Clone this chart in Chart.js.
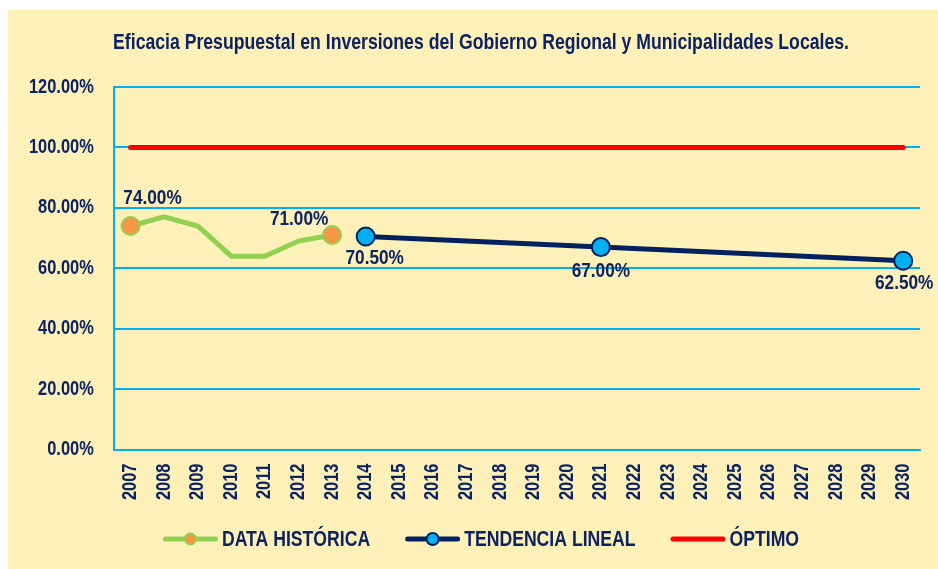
<!DOCTYPE html>
<html lang="es">
<head>
<meta charset="utf-8">
<title>Eficacia Presupuestal en Inversiones</title>
<script src="https://cdn.jsdelivr.net/npm/chart.js@4.4.1/dist/chart.umd.min.js"></script>
<style>
  html, body { margin: 0; padding: 0; background: #ffffff; }
  #panel {
    position: absolute; left: 8px; top: 10px;
    width: 930px; height: 559px;
    background: #FEF0B9;
    overflow: hidden;
  }
  #box { position: absolute; left: 0; top: 0; width: 946px; height: 559px; }
  #chart { display: block; }
</style>
</head>
<body>
<div id="panel"><div id="box"><canvas id="chart"></canvas></div></div>
<script>
// Years on the horizontal axis
const years = ['2007','2008','2009','2010','2011','2012','2013','2014','2015','2016','2017','2018',
               '2019','2020','2021','2022','2023','2024','2025','2026','2027','2028','2029','2030'];

// Historical budget efficacy (%)
const historico = [74, 77, 74, 64, 64, 69, 71, null, null, null, null, null,
                   null, null, null, null, null, null, null, null, null, null, null, null];

// Linear trend projection (%)
const tendencia = [null, null, null, null, null, null, null, 70.5, null, null, null, null,
                   null, null, 67, null, null, null, null, null, null, null, null, 62.5];

// Target level (%)
const optimo = [100, 100, 100, 100, 100, 100, 100, 100, 100, 100, 100, 100,
                100, 100, 100, 100, 100, 100, 100, 100, 100, 100, 100, 100];

const seriesNames = ['DATA HISTÓRICA', 'TENDENCIA LINEAL', 'ÓPTIMO'];
const yTicks = [0, 20, 40, 60, 80, 100, 120];
const chartTitle = 'Eficacia Presupuestal en Inversiones del Gobierno Regional y Municipalidades Locales.';

const NAVY = '#0C2363';
const GREEN = '#92D050';
const ORANGE = '#F79646';
const DARK = '#002060';
const CYAN = '#00B0F0';
const RED = '#FF0000';
const FONT = "'Liberation Sans', Arial, sans-serif";

// Condensed lettering: every string on the chart canvas is drawn
// horizontally compressed, and measured accordingly for layout.
const NARROW = 0.82;
const canvas = document.getElementById('chart');
const ctx2d = canvas.getContext('2d');
const baseFill = ctx2d.fillText;
const baseMeasure = ctx2d.measureText;
ctx2d.fillText = function (text, x, y, maxWidth) {
  this.save();
  this.translate(x, y);
  this.scale(NARROW, 1);
  if (maxWidth !== undefined) baseFill.call(this, text, 0, 0, maxWidth / NARROW);
  else baseFill.call(this, text, 0, 0);
  this.restore();
};
ctx2d.measureText = function (text) {
  const m = baseMeasure.call(this, text);
  return {
    width: m.width * NARROW,
    actualBoundingBoxAscent: m.actualBoundingBoxAscent,
    actualBoundingBoxDescent: m.actualBoundingBoxDescent,
    actualBoundingBoxLeft: m.actualBoundingBoxLeft * NARROW,
    actualBoundingBoxRight: m.actualBoundingBoxRight * NARROW,
    fontBoundingBoxAscent: m.fontBoundingBoxAscent,
    fontBoundingBoxDescent: m.fontBoundingBoxDescent
  };
};

// Heading centred on the canvas
const heading = {
  id: 'heading',
  afterDraw(chart) {
    const ctx = chart.ctx;
    ctx.save();
    ctx.font = "bold 21.5px " + FONT;
    ctx.fillStyle = NAVY;
    ctx.textAlign = 'center';
    ctx.textBaseline = 'middle';
    ctx.fillText(chartTitle, chart.width / 2, 33);
    ctx.restore();
  }
};

// Value labels placed next to selected points (offsets in px from the point)
const valueLabels = {
  id: 'valueLabels',
  afterDatasetsDraw(chart) {
    const ctx = chart.ctx;
    ctx.save();
    ctx.font = "bold 21px " + FONT;
    ctx.fillStyle = NAVY;
    ctx.textAlign = 'center';
    ctx.textBaseline = 'middle';
    chart.data.datasets.forEach((ds, di) => {
      const spots = ds.labelSpots || {};
      const meta = chart.getDatasetMeta(di);
      Object.keys(spots).forEach(k => {
        const i = +k;
        const v = ds.data[i];
        const pt = meta.data[i];
        if (v == null || !pt) return;
        const [dx, dy] = spots[k];
        ctx.fillText(v.toFixed(2) + '%', pt.x + dx, pt.y + dy);
      });
    });
    ctx.restore();
  }
};

// Legend row: line sample with the series marker, then the series name
const swatchLegend = {
  id: 'swatchLegend',
  afterDraw(chart) {
    const ctx = chart.ctx;
    const lineLen = 50, cap = 2.5, textGap = 4, itemGap = 35;
    ctx.save();
    ctx.font = "bold 21.5px " + FONT;
    const items = chart.data.datasets.map(ds => ({
      ds, w: ctx.measureText(ds.label).width
    }));
    const total = items.reduce((s, it) => s + lineLen + 2 * cap + textGap + it.w, 0) + itemGap * (items.length - 1);
    let x = chart.width / 2 - total / 2;
    const y = chart.height - 30;
    items.forEach(({ ds, w }) => {
      const x0 = x + cap, x1 = x0 + lineLen;
      ctx.strokeStyle = ds.borderColor;
      ctx.lineWidth = 5;
      ctx.lineCap = 'round';
      ctx.beginPath(); ctx.moveTo(x0, y); ctx.lineTo(x1, y); ctx.stroke();
      if (ds.legendMarker) {
        ctx.beginPath();
        ctx.arc((x0 + x1) / 2, y, ds.legendMarker, 0, Math.PI * 2);
        ctx.fillStyle = ds.pointBackgroundColor; ctx.fill();
        ctx.lineWidth = 2; ctx.strokeStyle = ds.pointBorderColor; ctx.stroke();
      }
      const tx = x1 + cap + textGap;
      ctx.fillStyle = NAVY;
      ctx.textAlign = 'left';
      ctx.textBaseline = 'middle';
      ctx.fillText(ds.label, tx, y + 1);
      x = tx + w + itemGap;
    });
    ctx.restore();
  }
};

new Chart(canvas, {
  type: 'line',
  data: {
    labels: years,
    datasets: [
      {
        label: seriesNames[0],
        data: historico,
        borderColor: GREEN,
        borderWidth: 5,
        backgroundColor: ORANGE,
        pointBackgroundColor: ORANGE,
        pointBorderColor: GREEN,
        pointBorderWidth: 2,
        pointRadius: [9, 0, 0, 0, 0, 0, 9],
        pointHoverRadius: [9, 0, 0, 0, 0, 0, 9],
        tension: 0,
        order: 2,
        legendMarker: 5.5,
        labelSpots: { 0: [22, -28], 6: [-33, -16] }
      },
      {
        label: seriesNames[1],
        data: tendencia,
        borderColor: DARK,
        borderWidth: 5,
        backgroundColor: CYAN,
        pointBackgroundColor: CYAN,
        pointBorderColor: DARK,
        pointBorderWidth: 2,
        pointRadius: 9,
        pointHoverRadius: 9,
        spanGaps: true,
        tension: 0,
        order: 1,
        legendMarker: 6,
        labelSpots: { 7: [9, 22], 14: [0, 24], 23: [1, 22] }
      },
      {
        label: seriesNames[2],
        data: optimo,
        borderColor: RED,
        borderWidth: 5,
        borderCapStyle: 'round',
        pointRadius: 0,
        pointHoverRadius: 0,
        tension: 0,
        order: 3,
        legendMarker: 0
      }
    ]
  },
  options: {
    responsive: true,
    maintainAspectRatio: false,
    animation: false,
    events: [],
    layout: { padding: { left: 1, right: 34, top: 77, bottom: 55 } },
    plugins: {
      title: { display: false },
      legend: { display: false },
      tooltip: { enabled: false }
    },
    scales: {
      x: {
        offset: true,
        grid: { display: false, drawTicks: false },
        border: { display: true, color: CYAN, width: 2 },
        ticks: {
          color: NAVY,
          font: { family: FONT, size: 20, weight: 'bold' },
          minRotation: 90,
          maxRotation: 90,
          padding: 14,
          autoSkip: false
        }
      },
      y: {
        min: yTicks[0],
        max: yTicks[yTicks.length - 1],
        grid: { color: CYAN, lineWidth: 2, drawTicks: false },
        border: { display: true, color: CYAN, width: 2 },
        afterBuildTicks(scale) { scale.ticks = yTicks.map(v => ({ value: v })); },
        ticks: {
          color: NAVY,
          font: { family: FONT, size: 20, weight: 'bold' },
          padding: 20,
          callback: v => v.toFixed(2) + '%'
        }
      }
    }
  },
  plugins: [valueLabels, heading, swatchLegend]
});
</script>
</body>
</html>
